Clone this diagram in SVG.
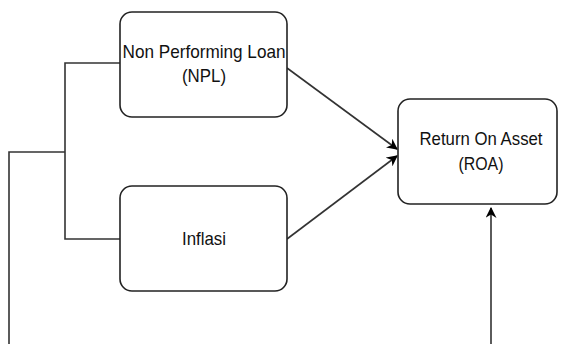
<svg xmlns="http://www.w3.org/2000/svg" width="566" height="344" viewBox="0 0 566 344">
  <defs>
    <marker id="arrow" viewBox="0 0 10 10" refX="9" refY="5" markerWidth="11" markerHeight="11" markerUnits="userSpaceOnUse" orient="auto">
      <path d="M0,0 L10,5 L0,10 L3,5 Z" fill="#000"/>
    </marker>
  </defs>
  <style>
    .box { fill: #fff; stroke: #222; stroke-width: 1.6; }
    .lbl { font-family: "Liberation Sans", Arial, sans-serif; font-size: 19px; fill: #111; text-anchor: middle; }
    .edge { fill: none; stroke: #333; stroke-width: 1.6; }
  </style>
  <rect width="566" height="344" fill="#fff"/>
  <g id="connectors">
    <polyline class="edge" points="120,63 65,63 65,239 120,239"/>
    <polyline class="edge" points="9,344 9,152 65,152"/>
    <line class="edge" x1="287" y1="68" x2="397" y2="149" marker-end="url(#arrow)"/>
    <line class="edge" x1="287" y1="239" x2="397" y2="156" marker-end="url(#arrow)"/>
    <line class="edge" x1="491" y1="344" x2="491" y2="208" marker-end="url(#arrow)"/>
  </g>
  <g id="npl">
    <rect class="box" x="120" y="12" width="167" height="105" rx="12" ry="12"/>
    <text class="lbl" x="204" y="58" textLength="163" lengthAdjust="spacingAndGlyphs">Non Performing Loan</text>
    <text class="lbl" x="204" y="82" textLength="44" lengthAdjust="spacingAndGlyphs">(NPL)</text>
  </g>
  <g id="inflasi">
    <rect class="box" x="120" y="186" width="167" height="105" rx="12" ry="12"/>
    <text class="lbl" x="204" y="245" textLength="44" lengthAdjust="spacingAndGlyphs">Inflasi</text>
  </g>
  <g id="roa">
    <rect class="box" x="398" y="99" width="159" height="105" rx="12" ry="12"/>
    <text class="lbl" x="481" y="145" textLength="123" lengthAdjust="spacingAndGlyphs">Return On Asset</text>
    <text class="lbl" x="481" y="170" textLength="45" lengthAdjust="spacingAndGlyphs">(ROA)</text>
  </g>
</svg>
